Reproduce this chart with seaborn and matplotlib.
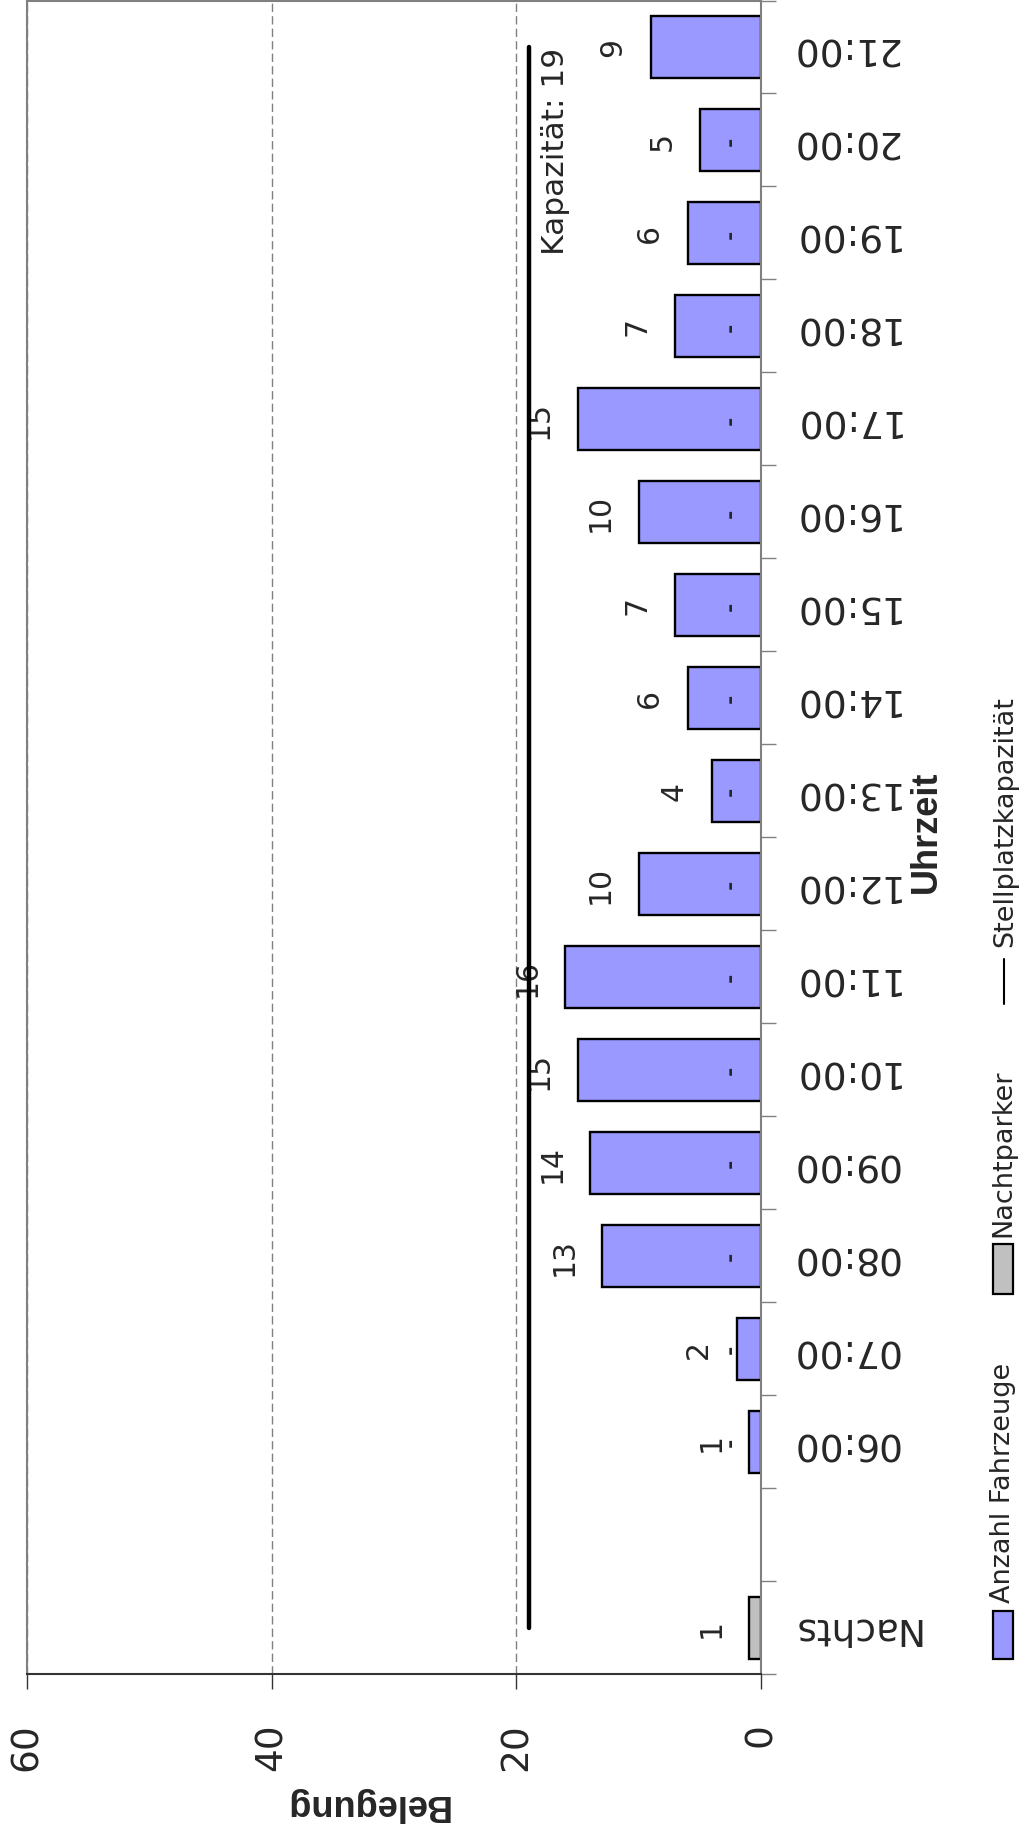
import numpy as np
import pandas as pd
import matplotlib
matplotlib.use("Agg")
import matplotlib.pyplot as plt
from matplotlib.patches import Rectangle
from matplotlib.lines import Line2D
import seaborn as sns

# data
times = ["Nachts", "06:00", "07:00", "08:00", "09:00", "10:00", "11:00", "12:00",
         "13:00", "14:00", "15:00", "16:00", "17:00", "18:00", "19:00", "20:00", "21:00"]
belegung = [1, 1, 2, 13, 14, 15, 16, 10, 4, 6, 7, 10, 15, 7, 6, 5, 9]
serie = ["Nachtparker"] + ["Anzahl Fahrzeuge"] * 16
nacht_labels = [""] + ["-"] * 15 + [""]
kapazitaet = 19
kap_werte = [kapazitaet] * len(times)
legend_names = ["Anzahl Fahrzeuge", "Nachtparker", "Stellplatzkapazität"]
xticks = [0, 20, 40, 60]

# Nachts at bottom, empty slot between Nachts and 06:00
order = times[:0:-1] + [" ", "Nachts"]

W, H = 1029, 1831
sns.set_style("white")
plt.rcParams["font.family"] = ["DejaVu Sans"]

df = pd.DataFrame({"Uhrzeit": times, "Belegung": belegung, "Serie": serie})

fig = plt.figure(figsize=(W / 100, H / 100), dpi=100)
ax = fig.add_axes([27 / W, 1 - 1675 / H, (761 - 27) / W, (1675 - 1.5) / H])

sns.barplot(data=df, x="Belegung", y="Uhrzeit", order=order, hue="Serie",
            palette={"Nachtparker": "#C0C0C0", "Anzahl Fahrzeuge": "#9999FF"},
            saturation=1, dodge=False, width=0.667, edgecolor="black", linewidth=1.7,
            legend=False, ax=ax, orient="h")

pos = {c: i for i, c in enumerate(order)}

# capacity line
ax.plot(kap_werte, [pos[t] for t in times], color="black", lw=3.2,
        solid_capstyle="round", zorder=4)
ax.annotate(f"Kapazität: {kapazitaet}", (kapazitaet, pos["21:00"]), xytext=(27, 0),
            textcoords="offset pixels", rotation=90, ha="center", va="top", fontsize=22.5)

# value labels
for t, v in zip(times, belegung):
    ax.annotate(str(v), (v, pos[t]), xytext=(-38, 0), textcoords="offset pixels",
                rotation=90, ha="center", va="center", fontsize=21.5)
for t, m in zip(times, nacht_labels):
    if m:
        ax.text(2.5, pos[t], m, rotation=90, ha="center", va="center",
                fontsize=16, fontweight="bold")

ax.set_xlim(60, 0)
ax.set_ylim(len(order) - 0.5, -0.5)
ax.set_xticks(xticks)
ax.set_xticklabels([str(x) for x in xticks], rotation=90, fontsize=27)
ax.xaxis.grid(True, linestyle=(0, (6, 3)), color="#808080", lw=1)
ax.set_axisbelow(True)

ax.yaxis.tick_right()
ax.set_yticks(range(len(order)))
ax.set_yticklabels(order, rotation=180, va="center", fontsize=27)
ax.set_yticks(np.arange(-0.5, len(order)), minor=True)
ax.tick_params(axis="y", which="major", length=0, pad=21, left=False, right=True)
ax.tick_params(axis="y", which="minor", length=10.8, width=1, color="#808080",
               left=False, right=True)
ax.tick_params(axis="x", which="major", length=10.8, width=1, color="#333333",
               pad=24, bottom=True)

for side in ["left", "top", "right"]:
    ax.spines[side].set_color("#808080")
    ax.spines[side].set_linewidth(1.5)
ax.spines["bottom"].set_color("#333333")
ax.spines["bottom"].set_linewidth(1.5)

ax.set_xlabel("Belegung", fontsize=26, fontweight="bold", rotation=180,
              family="Liberation Sans")
ax.xaxis.label.set_va("center")
ax.xaxis.set_label_coords((366 - 27) / (761 - 27), (1675 - 1805) / 1673.5)

ax.yaxis.set_label_position("right")
ax.set_ylabel("Uhrzeit", fontsize=26, fontweight="bold", family="Liberation Sans")
ax.yaxis.label.set_rotation(90)
ax.yaxis.label.set_rotation_mode("default")
ax.yaxis.label.set_va("center")
ax.yaxis.label.set_ha("center")
ax.yaxis.set_label_coords((926 - 27) / (761 - 27), (1675 - 832) / 1673.5)

# legend, rotated like the rest of the chart
fig.add_artist(Rectangle((993 / W, 1 - 1660 / H), 20 / W, 48 / H, transform=fig.transFigure,
                         fc="#9999FF", ec="black", lw=1.6))
fig.text(1003 / W, 1 - 1603 / H, legend_names[0], rotation=90, ha="center", va="bottom",
         fontsize=19.5)
fig.add_artist(Rectangle((993 / W, 1 - 1295 / H), 20 / W, 50 / H, transform=fig.transFigure,
                         fc="#C0C0C0", ec="black", lw=1.6))
fig.text(1003 / W, 1 - 1237 / H, legend_names[1], rotation=90, ha="center", va="bottom",
         fontsize=19.5)
fig.add_artist(Line2D([1004 / W, 1004 / W], [1 - 1005 / H, 1 - 960 / H],
                      transform=fig.transFigure, color="black", lw=1.5))
fig.text(1005 / W, 1 - 947 / H, legend_names[2], rotation=90, ha="center", va="bottom",
         fontsize=19.5)

fig.savefig("out.png", dpi=100)
